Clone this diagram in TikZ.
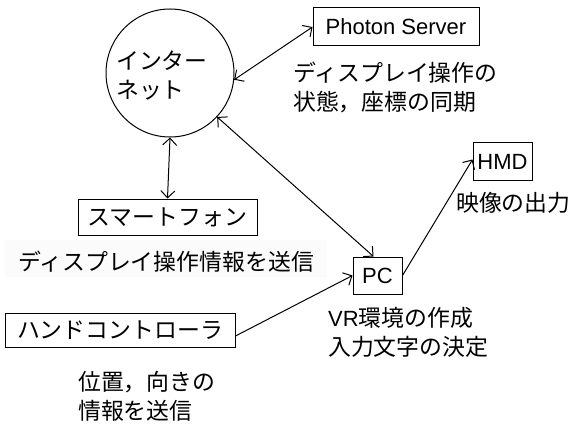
\documentclass[tikz,border=0pt]{standalone}
\usepackage{fontspec}
\setmainfont{Liberation Sans}
\newfontfamily\jp[Scale=1.04]{Noto Sans CJK JP}
\usetikzlibrary{arrows.meta}
\definecolor{faint}{HTML}{FBFBFB}
\begin{document}
\begin{tikzpicture}[x=1pt,y=-1pt,
  every node/.style={font=\fontsize{22}{29}\selectfont},
  box/.style={draw,line width=1pt,inner sep=0pt},
  lbl/.style={anchor=west,align=left,inner sep=0pt},
  conn/.style={line width=1pt},
  barb/.tip={Straight Barb[length=7pt,width=14pt,line width=1pt]},
  tip/.style={-barb},
  both/.style={barb-barb}]
\useasboundingbox (0,0) rectangle (570,425);
\fill[faint] (5,240) rectangle (327,277);
% nodes
\node[draw,circle,line width=1pt,minimum size=128pt,inner sep=0pt] (inet) at (170,73) {};
\node[lbl] (inettext) at (116,76) {\jp インター\\\jp ネット};
\node[box,minimum width=166pt,minimum height=38pt] (photon) at (396,27) {Photon Server};
\node[box,minimum width=59pt,minimum height=37pt] (hmd) at (502.5,161.5) {HMD};
\node[box,minimum width=49pt,minimum height=37pt] (pc) at (377.5,275.5) {PC};
\node[box,minimum width=179pt,minimum height=36pt] (phone) at (167.5,217) {\jp スマートフォン};
\node[box,minimum width=230pt,minimum height=34pt] (hand) at (120,330) {\jp ハンドコントローラ};
% labels
\node[lbl] (l1) at (293,87) {\jp ディスプレイ操作の\\\jp 状態，座標の同期};
\node[lbl] (l2) at (456,203) {\jp 映像の出力};
\node[lbl] (l3) at (18,262) {\jp ディスプレイ操作情報を送信};
\node[lbl] (l4) at (328,332) {VR{\jp 環境の作成}\\\jp 入力文字の決定};
\node[lbl] (l5) at (78,396) {\jp 位置，向きの\\\jp 情報を送信};
% connectors
\draw[conn,both] (inet.-6) -- (photon.west);
\draw[conn,both] (inet.-43) -- ([xshift=-4pt]pc.north);
\draw[conn,both] (inet.south) -- (phone.north);
\draw[conn,tip] ([yshift=-6pt]hand.east) -- (pc.west);
\draw[conn,tip] (pc.east) -- ([yshift=2pt]hmd.west);
\end{tikzpicture}
\end{document}
